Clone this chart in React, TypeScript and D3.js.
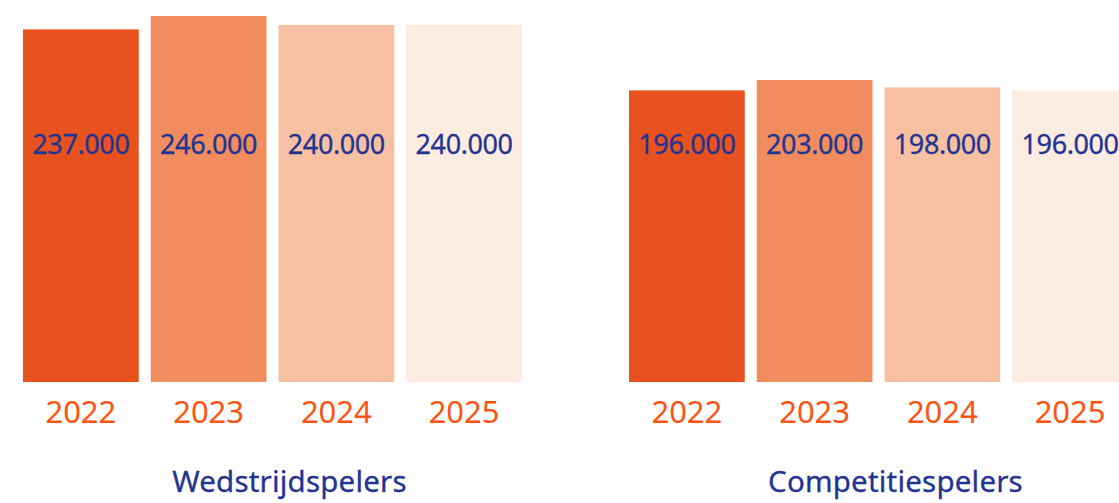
import React from "react";
import * as d3 from "d3";

const groups = ["Wedstrijdspelers", "Competitiespelers"];
const years = ["2022", "2023", "2024", "2025"];
const wedstrijdspelers = [237000, 246000, 240000, 240000];
const competitiespelers = [196000, 203000, 198000, 196000];
const barColors = ["#e8521e", "#f08c5d", "#f8c0a2", "#fdece2"];

const W = 1119;
const H = 503;
const FONT = "'Noto Sans', 'Open Sans', sans-serif";
const BLUE = "#1f3591";
const ORANGE = "#fe5311";

const seriesByGroup: Record<string, number[]> = {
  Wedstrijdspelers: wedstrijdspelers,
  Competitiespelers: competitiespelers,
};

export default function App() {
  const groupX = d3.scaleOrdinal<string, number>().domain(groups).range([23, 629]);
  const groupWidth = 499;
  const x = d3.scaleBand<string>().domain(years).range([0, groupWidth]).paddingInner(12 / 128).paddingOuter(0);
  const y = d3.scaleLinear().domain([0, 246000]).range([382, 16]);
  const fmt = (v: number) => d3.format(",")(v).replace(/,/g, ".");

  return (
    <svg
      width={W}
      height={H}
      style={{ position: "absolute", left: 0, top: 0, background: "#fff" }}
      fontFamily={FONT}
    >
      {groups.map((g) => {
        const gx = groupX(g);
        const vals = seriesByGroup[g];
        return (
          <g key={g} transform={`translate(${gx},0)`}>
            {years.map((yr, i) => {
              const bx = x(yr)!;
              const bw = x.bandwidth();
              return (
                <g key={yr}>
                  <rect x={bx} y={y(vals[i])} width={bw} height={y(0) - y(vals[i])} fill={barColors[i]} />
                  <text
                    x={bx + bw / 2}
                    y={154}
                    textAnchor="middle"
                    fontSize={27}
                    letterSpacing={-0.4}
                    fill={BLUE}
                    stroke={BLUE}
                    strokeWidth={0.3}
                  >
                    {fmt(vals[i])}
                  </text>
                  <text x={bx + bw / 2} y={423} textAnchor="middle" fontSize={31} fill={ORANGE}>
                    {yr}
                  </text>
                </g>
              );
            })}
            <text
              x={groupWidth / 2 + 17}
              y={492}
              textAnchor="middle"
              fontSize={29.5}
              letterSpacing={0.2}
              fill={BLUE}
              stroke={BLUE}
              strokeWidth={0.3}
            >
              {g}
            </text>
          </g>
        );
      })}
    </svg>
  );
}
